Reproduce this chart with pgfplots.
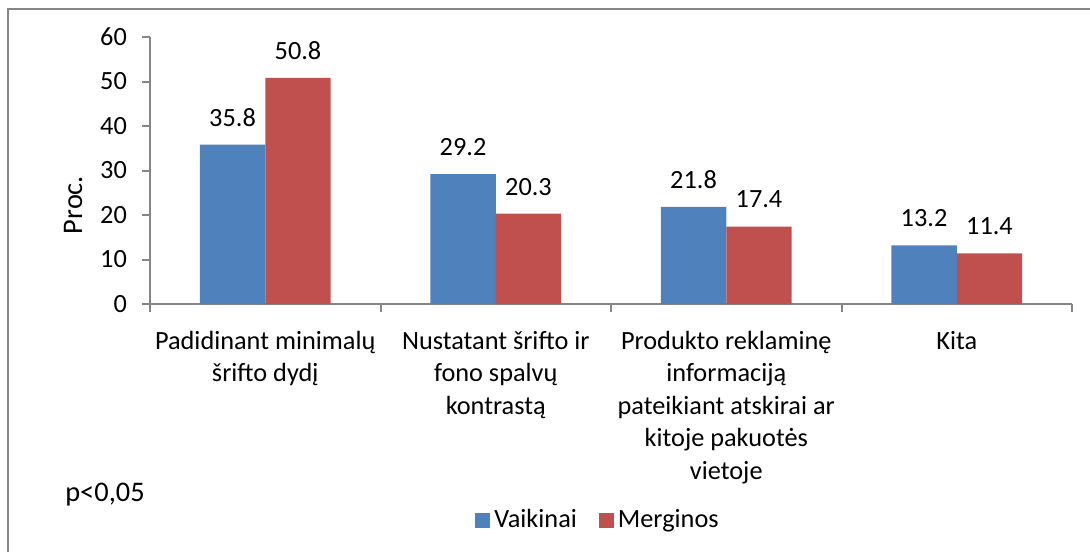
\documentclass[border=0pt]{standalone}
\usepackage{pgfplots}
\pgfplotsset{compat=1.18}
\usepackage{fontspec}
\setmainfont{Carlito}

\definecolor{vblue}{HTML}{4F81BD}
\definecolor{mred}{HTML}{C0504D}
\definecolor{axgray}{HTML}{868686}
\newcommand{\chartfont}{\fontsize{13.15}{16.25}\selectfont}

\begin{document}
\chartfont
\begin{tikzpicture}
% picture is 1090x552 px, 1px = 0.5pt
\useasboundingbox (0pt,0pt) rectangle (545pt,276pt);
\draw[axgray, line width=1pt] (4pt,0pt) -- (4pt,271.5pt) -- (545pt,271.5pt);
\begin{axis}[
    at={(75pt,124pt)}, anchor=south west,
    scale only axis, width=461pt, height=133.5pt,
    xmin=-0.5, xmax=3.5, ymin=0, ymax=60,
    axis lines*=left,
    axis line style={axgray, line width=1pt},
    tick style={axgray, line width=1pt},
    tick align=outside,
    major tick length=4pt,
    ytick={0,10,...,60},
    xtick={-0.5,0.5,...,3.5},
    xticklabels={},
    extra x ticks={0,1,2,3},
    extra x tick labels={{Padidinant minimalų\\šrifto dydį},
        {Nustatant šrifto ir\\fono spalvų\\kontrastą},
        {Produkto reklaminę\\informaciją\\pateikiant atskirai ar\\kitoje pakuotės\\vietoje},
        {Kita}},
    extra x tick style={major tick length=0pt, tick style={draw=none},
        tick label style={align=center, yshift=-9pt}},
    ticklabel style={font=\chartfont},
    yticklabel style={xshift=-3pt},
    /pgf/number format/assume math mode=true,
    ybar, bar width=0.284,
    nodes near coords={\pgfmathprintnumber[fixed,precision=1,fixed zerofill]{\pgfplotspointmeta}},
    every node near coord/.append style={font=\chartfont, anchor=south, inner sep=0pt, yshift=9pt},
    legend style={at={(0.487,-0.809)}, anchor=center, draw=none, font=\chartfont,
        legend columns=2, /tikz/every even column/.append style={column sep=9pt}},
    legend image code/.code={\fill[#1] (-2pt,-3.75pt) rectangle (5.5pt,3.75pt);},
    clip=false,
]
\addplot[fill=vblue, draw=none, bar shift=-0.142] coordinates {(0,35.8) (1,29.2) (2,21.8) (3,13.2)};
\addlegendentry{Vaikinai}
\addplot[fill=mred, draw=none, bar shift=0.142] coordinates {(0,50.8) (1,20.3) (2,17.4) (3,11.4)};
\addlegendentry{Merginos}
\end{axis}
\node[rotate=90, font=\fontsize{14.2}{17}\selectfont] at (36.5pt,173.5pt) {Proc.};
\node[font=\fontsize{14.2}{17}\selectfont] at (52.5pt,28.5pt) {p<0,05};
\end{tikzpicture}
\end{document}
